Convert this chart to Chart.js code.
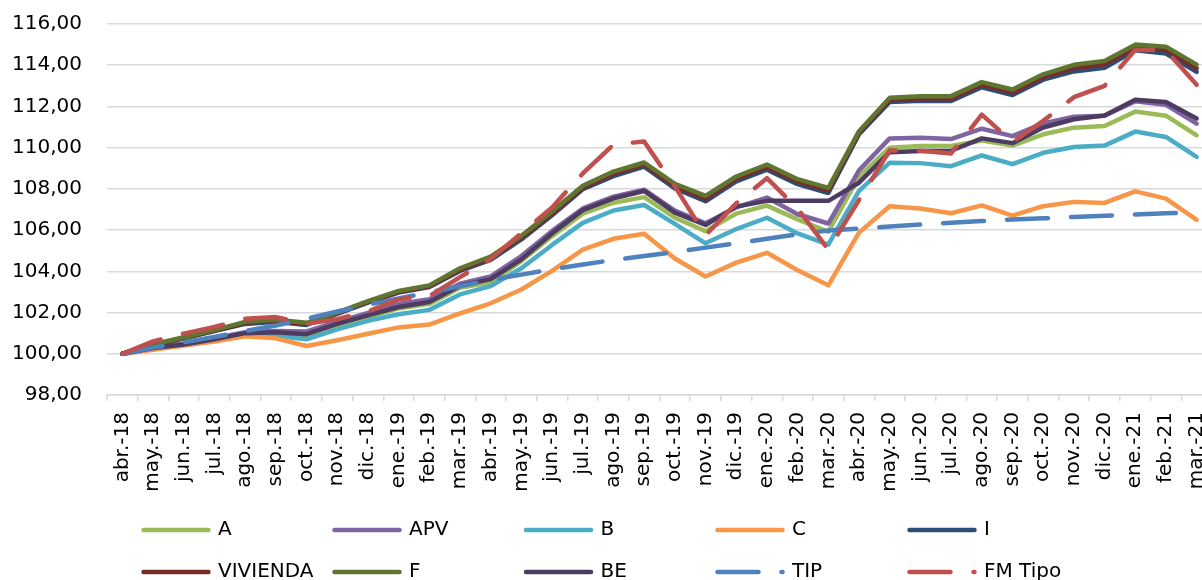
<!DOCTYPE html>
<html>
<head>
<meta charset="utf-8">
<script src="https://cdn.jsdelivr.net/npm/chart.js@4.4.1/dist/chart.umd.min.js"></script>
<style>
  html, body { margin: 0; padding: 0; background: #fff; overflow: hidden; }
  #wrap { position: relative; width: 1215px; height: 580px; }
</style>
</head>
<body>
<div id="wrap"><canvas id="chart"></canvas></div>
<script>
// Monthly index values, base abr.-18 = 100
const months = ['abr.-18','may.-18','jun.-18','jul.-18','ago.-18','sep.-18','oct.-18','nov.-18','dic.-18',
  'ene.-19','feb.-19','mar.-19','abr.-19','may.-19','jun.-19','jul.-19','ago.-19','sep.-19','oct.-19','nov.-19','dic.-19',
  'ene.-20','feb.-20','mar.-20','abr.-20','may.-20','jun.-20','jul.-20','ago.-20','sep.-20','oct.-20','nov.-20','dic.-20',
  'ene.-21','feb.-21','mar.-21'];

const serieA = [100, 100.27, 100.47, 100.72, 100.98, 101.02, 100.9, 101.35, 101.78, 102.2, 102.42, 103.2,
  103.47, 104.5, 105.71, 106.8, 107.33, 107.6, 106.6, 105.95, 106.8, 107.19, 106.52, 105.92,
  108.6, 110.0, 110.08, 110.08, 110.35, 110.1, 110.65, 110.97, 111.05, 111.75, 111.55, 110.6];
const serieAPV = [100, 100.3, 100.5, 100.75, 101.05, 101.1, 101.08, 101.55, 101.98, 102.42, 102.65, 103.4,
  103.75, 104.74, 105.96, 107.05, 107.62, 107.96, 106.95, 106.33, 107.1, 107.58, 106.77, 106.32,
  108.9, 110.45, 110.48, 110.42, 110.92, 110.56, 111.18, 111.5, 111.55, 112.25, 112.08, 111.17];
const serieB = [100, 100.22, 100.42, 100.63, 100.88, 100.87, 100.7, 101.18, 101.6, 101.92, 102.13, 102.88,
  103.28, 104.15, 105.28, 106.35, 106.95, 107.22, 106.3, 105.36, 106.05, 106.6, 105.84, 105.3,
  107.9, 109.27, 109.25, 109.1, 109.62, 109.2, 109.75, 110.03, 110.1, 110.78, 110.52, 109.55];
const serieC = [100, 100.2, 100.4, 100.6, 100.85, 100.75, 100.38, 100.66, 100.97, 101.28, 101.42, 101.96,
  102.45, 103.12, 104.02, 105.05, 105.58, 105.82, 104.62, 103.75, 104.42, 104.9, 104.05, 103.32,
  105.88, 107.16, 107.05, 106.82, 107.2, 106.7, 107.16, 107.37, 107.32, 107.88, 107.53, 106.5];
const serieI = [100, 100.4, 100.75, 101.1, 101.45, 101.55, 101.4, 101.93, 102.48, 102.97, 103.24, 104.02,
  104.56, 105.55, 106.72, 107.98, 108.62, 109.08, 108.02, 107.4, 108.36, 108.93, 108.23, 107.8,
  110.65, 112.22, 112.28, 112.27, 112.93, 112.55, 113.3, 113.7, 113.88, 114.72, 114.57, 113.68];
const serieVivienda = [100, 100.42, 100.78, 101.12, 101.5, 101.6, 101.45, 101.97, 102.52, 103.01, 103.28, 104.08,
  104.64, 105.63, 106.81, 108.06, 108.73, 109.18, 108.13, 107.53, 108.48, 109.05, 108.35, 107.92,
  110.72, 112.32, 112.39, 112.38, 113.05, 112.68, 113.43, 113.86, 114.04, 114.86, 114.74, 113.85];
const serieF = [100, 100.45, 100.8, 101.15, 101.55, 101.65, 101.5, 102.0, 102.55, 103.05, 103.32, 104.15,
  104.72, 105.72, 106.9, 108.15, 108.84, 109.28, 108.25, 107.66, 108.6, 109.18, 108.47, 108.05,
  110.8, 112.42, 112.5, 112.5, 113.18, 112.82, 113.56, 114.02, 114.2, 115.0, 114.9, 114.03];
const serieBE = [100, 100.28, 100.45, 100.7, 101.0, 101.05, 100.95, 101.45, 101.86, 102.27, 102.51, 103.3,
  103.62, 104.58, 105.84, 106.97, 107.54, 107.9, 106.85, 106.25, 107.14, 107.42, 107.42, 107.42,
  108.3, 109.78, 109.84, 109.85, 110.45, 110.22, 110.98, 111.38, 111.56, 112.33, 112.22, 111.42];
const serieTIP = [100, 100.3, 100.56, 100.82, 101.1, 101.37, 101.7, 102.05, 102.38, 102.68, 102.98, 103.28,
  103.58, 103.84, 104.1, 104.33, 104.55, 104.74, 104.94, 105.15, 105.36, 105.58, 105.8, 105.98,
  106.07, 106.17, 106.27, 106.36, 106.44, 106.52, 106.57, 106.64, 106.7, 106.76, 106.82, 106.86];
const serieFM = [100, 100.6, 100.98, 101.3, 101.7, 101.78, 101.45, 101.68, 102.05, 102.65, 102.8, 103.72,
  104.6, 105.85, 107.1, 108.75, 110.15, 110.3, 108.12, 105.75, 107.3, 108.52, 107.05, 105.05,
  107.46, 109.87, 109.85, 109.72, 111.6, 110.27, 111.3, 112.45, 113.0, 114.75, 114.72, 113.05];

const yTicks = [98, 100, 102, 104, 106, 108, 110, 112, 114, 116];

const names = ['A', 'APV', 'B', 'C', 'I', 'VIVIENDA', 'F', 'BE', 'TIP', 'FM Tipo'];
const values = [serieA, serieAPV, serieB, serieC, serieI, serieVivienda, serieF, serieBE, serieTIP, serieFM];
const colors = ['#9BBB59', '#8064A2', '#4BACC6', '#F79646', '#2C4D75', '#772C2A', '#5F7530', '#4D3B62', '#4F81BD', '#C0504D'];
const dashed = [false, false, false, false, false, false, false, false, true, true];

const FONT = '"DejaVu Sans", Verdana, sans-serif';

// legend laid out in a 5 x 2 grid under the axis, like the spreadsheet one
const gridLegend = {
  id: 'gridLegend',
  afterDraw(chart) {
    const ctx = chart.ctx;
    const colX = [141, 332, 523.5, 715, 907];
    const rowY = [530, 572];
    ctx.save();
    ctx.font = '20px ' + FONT;
    ctx.textBaseline = 'middle';
    ctx.textAlign = 'left';
    chart.data.datasets.forEach((ds, i) => {
      const x = colX[i % 5], y = rowY[Math.floor(i / 5)];
      ctx.beginPath();
      ctx.strokeStyle = ds.borderColor;
      ctx.lineWidth = ds.borderWidth;
      ctx.lineCap = 'round';
      ctx.setLineDash(ds.borderDash || []);
      ctx.moveTo(x + 2.5, y);
      ctx.lineTo(x + 67.5, y);
      ctx.stroke();
      ctx.setLineDash([]);
      ctx.fillStyle = '#000';
      ctx.fillText(ds.label, x + 77, y);
    });
    ctx.restore();
  }
};

const datasets = names.map((name, i) => ({
  label: name,
  data: values[i],
  borderColor: colors[i],
  backgroundColor: colors[i],
  borderWidth: 4.5,
  borderDash: dashed[i] ? [41, 23] : [],
  borderCapStyle: 'round',
  borderJoinStyle: 'round',
  pointRadius: 0,
  pointHoverRadius: 0,
  tension: 0,
  fill: false,
  order: names.length - i   // later series drawn on top
}));

new Chart(document.getElementById('chart'), {
  type: 'line',
  data: { labels: months, datasets },
  options: {
    responsive: true,
    maintainAspectRatio: false,
    animation: false,
    layout: { padding: { top: 24, right: 3, bottom: 0, left: 0 } },
    plugins: {
      legend: { display: false },
      tooltip: { enabled: false }
    },
    scales: {
      x: {
        offset: true,
        grid: { display: true, drawOnChartArea: false, drawTicks: true, tickLength: 6, offset: true, color: '#D9D9D9', lineWidth: 1.5 },
        border: { display: true, color: '#D9D9D9', width: 1.5 },
        ticks: {
          autoSkip: false, minRotation: 90, maxRotation: 90, padding: 11,
          color: '#000', font: { family: FONT, size: 20 }
        },
        afterFit(s) { s.height = 185; s.paddingLeft = 0; s.paddingRight = 0; }
      },
      y: {
        min: yTicks[0],
        max: yTicks[yTicks.length - 1],
        afterBuildTicks(s) { s.ticks = yTicks.map(v => ({ value: v })); },
        grid: { color: '#D9D9D9', lineWidth: 1.5, drawTicks: false },
        border: { display: false },
        ticks: {
          padding: 25, color: '#000', font: { family: FONT, size: 20 },
          callback: v => v.toFixed(2).replace('.', ',')
        },
        afterFit(s) { s.width = 107; s.paddingTop = 0; s.paddingBottom = 0; }
      }
    }
  },
  plugins: [gridLegend]
});
</script>
</body>
</html>
